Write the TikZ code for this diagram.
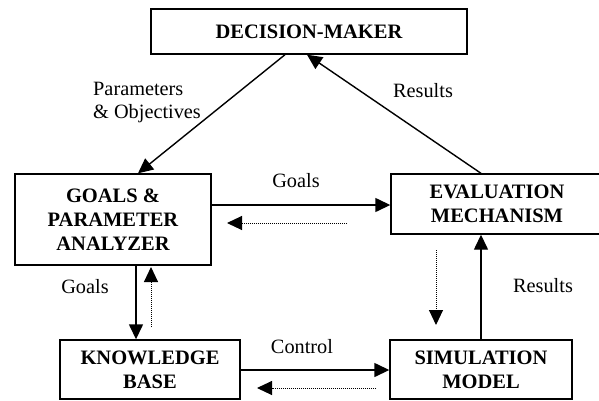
\documentclass[tikz,border=0pt]{standalone}
\usepackage{fontspec}
\setmainfont{Liberation Serif}
\usetikzlibrary{arrows.meta}

\tikzset{
	box/.style={draw, line width=1.4pt, align=center, inner sep=0pt,
		font=\fontsize{20.5}{24}\selectfont\bfseries},
	lbl/.style={font=\fontsize{20.3}{23}\selectfont, inner sep=0pt},
	arr/.style={line width=1.4pt, -{Triangle[length=15pt,width=14pt]}},
	back/.style={line width=1pt, dash pattern=on 1pt off 1pt, -{Triangle[length=15pt,width=14pt]}}
}

\begin{document}
\begin{tikzpicture}[x=1pt,y=-1pt]
		\useasboundingbox (0,0) rectangle (599,400);
		\clip (0,0) rectangle (599,400);
		
		% boxes
		\node[box, minimum width=316pt, minimum height=45pt] (dm) at (309,31.5) {DECISION-MAKER};
		\node[box, minimum width=196pt, minimum height=91pt] (goals) at (113,219.5) {GOALS \&\\PARAMETER\\ANALYZER};
		\node[box, minimum width=212pt, minimum height=60pt] (eval) at (497,204) {EVALUATION\\MECHANISM};
		\node[box, minimum width=180pt, minimum height=59pt] (kb) at (150,369.5) {KNOWLEDGE\\BASE};
		\node[box, minimum width=182pt, minimum height=59pt] (sim) at (481,369.5) {SIMULATION\\MODEL};
		
		% solid flows
		\draw[arr] ([xshift=-24pt]dm.south) -- ([xshift=25pt]goals.north);
		\draw[arr] ([xshift=-16pt]eval.north) -- ([xshift=-2pt]dm.south);
		\coordinate (g1) at ([yshift=14.5pt]goals.east);
		\draw[arr] (g1) -- (g1 -| eval.west);
		\coordinate (g2) at ([xshift=23pt]goals.south);
		\draw[arr] (g2) -- (g2 |- kb.north);
		\coordinate (k1) at ([yshift=-0.5pt]kb.east);
		\draw[arr] (k1) -- (k1 -| sim.west);
		\draw[arr] (sim.north) -- (sim.north |- eval.south);
		
		% dotted returns
		\coordinate (d1a) at (347,223);
		\coordinate (d1b) at (227,223);
		\draw[back] (d1a) -- (d1b);
		\coordinate (d2a) at (151,327);
		\coordinate (d2b) at (151,267);
		\draw[back] (d2a) -- (d2b);
		\coordinate (d3a) at (376,388);
		\coordinate (d3b) at (257,388);
		\draw[back] (d3a) -- (d3b);
		\coordinate (d4a) at (436,250);
		\coordinate (d4b) at (436,325);
		\draw[back] (d4a) -- (d4b);
		
		% labels
		\node[lbl, align=left, anchor=north west] (lpar) at (93,82.5) {Parameters\\\& Objectives};
		\node[lbl, anchor=base] (lres1) at (423,97) {Results};
		\node[lbl, anchor=base] (lgoal1) at (296,187) {Goals};
		\node[lbl, anchor=base] (lgoal2) at (85,293) {Goals};
		\node[lbl, anchor=base] (lres2) at (543,292) {Results};
		\node[lbl, anchor=base] (lctl) at (302,353) {Control};
\end{tikzpicture}
\end{document}
